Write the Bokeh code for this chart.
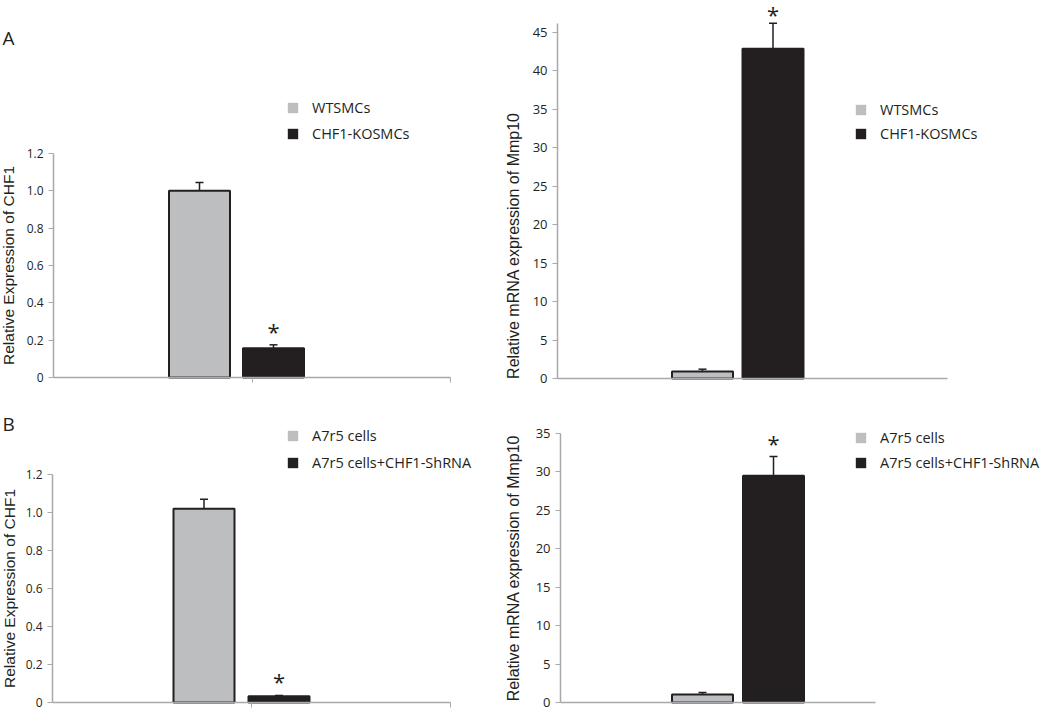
from bokeh.plotting import figure
from bokeh.models import (Range1d, FixedTicker, Whisker, TeeHead, ColumnDataSource,
                          Legend, LegendItem, Label)
from bokeh.layouts import column, row
from bokeh.embed import file_html
from bokeh.resources import INLINE

# ---------------- data ----------------
A_GROUPS = ["WTSMCs", "CHF1-KOSMCs"]
B_GROUPS = ["A7r5 cells", "A7r5 cells+CHF1-ShRNA"]

A_CHF1 = [1.00, 0.157]
A_CHF1_ERR = [0.045, 0.018]
A_MMP10 = [0.91, 42.9]
A_MMP10_ERR = [0.30, 3.3]

B_CHF1 = [1.02, 0.033]
B_CHF1_ERR = [0.05, 0.004]
B_MMP10 = [1.03, 29.5]
B_MMP10_ERR = [0.27, 2.5]

SIGNIFICANT = [False, True]

CHF1_TICKS = [0, 0.2, 0.4, 0.6, 0.8, 1.0, 1.2]
CHF1_TICK_LABELS = ["0", "0.2", "0.4", "0.6", "0.8", "1.0", "1.2"]
A_MMP10_TICKS = [0, 5, 10, 15, 20, 25, 30, 35, 40, 45]
A_MMP10_TICK_LABELS = ["0", "5", "10", "15", "20", "25", "30", "35", "40", "45"]
B_MMP10_TICKS = [0, 5, 10, 15, 20, 25, 30, 35]
B_MMP10_TICK_LABELS = ["0", "5", "10", "15", "20", "25", "30", "35"]

CHF1_LABEL = "Relative Expression of CHF1"
MMP10_LABEL = "Relative mRNA expression of Mmp10"

# ---------------- style ----------------
GRAY = "#BCBEC0"
BLACK = "#231F20"
AXIS = "#A7A9AC"
TEXT = "#231F20"
SANS = "Open Sans"
ARIAL = "Liberation Sans"


def panel(groups, vals, errs, ticks, tick_labels, axis_top, ylabel, g):
    # g: page geometry of the panel (pixels): figure box, axis origin, px per unit
    fl, ft, w, h = g["fig"]
    s, k = g["s"], g["k"]
    x0 = (fl - g["xg"]) / s
    x1 = (fl + w - g["xg"]) / s
    y0 = (g["y0"] - (ft + h)) / k
    y1 = (g["y0"] - ft) / k
    xa0 = (g["xa"] - g["xg"]) / s
    xa1 = (g["xe"] - g["xg"]) / s

    p = figure(width=w, height=h, output_backend="svg", toolbar_location=None,
               x_range=Range1d(x0, x1), y_range=Range1d(y0, y1),
               min_border=0, min_border_left=0, min_border_right=0,
               min_border_top=0, min_border_bottom=0)
    p.outline_line_color = None
    p.xgrid.visible = False
    p.ygrid.visible = False

    xs = list(range(len(groups)))
    src = ColumnDataSource(dict(
        x=xs, top=vals, upper=[v + e for v, e in zip(vals, errs)],
        color=[GRAY, BLACK]))
    p.vbar(x="x", top="top", bottom=0, width=61 / s, fill_color="color",
           line_color=BLACK, line_width=2, source=src)

    p.add_layout(Whisker(source=src, base="x", lower="top", upper="upper",
                         dimension="height", line_color=BLACK, line_width=1.5,
                         lower_head=None,
                         upper_head=TeeHead(size=8, line_color=BLACK, line_width=1.5)))

    for x, up, sig in zip(xs, src.data["upper"], SIGNIFICANT):
        if sig:
            p.add_layout(Label(x=x, y=up, y_offset=g.get("star_off", 14), text="*",
                               text_align="center", text_baseline="middle",
                               text_font=SANS, text_font_size="22px", text_color=TEXT))

    # y axis
    yax = p.yaxis[0]
    yax.fixed_location = xa0
    yax.bounds = (0, axis_top)
    yax.ticker = FixedTicker(ticks=ticks)
    yax.major_label_overrides = {t: l for t, l in zip(ticks, tick_labels)}
    yax.minor_tick_line_color = None
    yax.axis_line_color = AXIS
    yax.axis_line_width = 1.5
    yax.major_tick_line_color = AXIS
    yax.major_tick_out = 5
    yax.major_tick_in = 0
    yax.major_label_standoff = 5
    yax.major_label_text_font = SANS
    yax.major_label_text_font_size = g["tick_fs"]
    yax.major_label_text_color = TEXT
    if g.get("lab_xy") is None:
        yax.axis_label = ylabel
        yax.axis_label_text_font = ARIAL
        yax.axis_label_text_font_style = "normal"
        yax.axis_label_text_font_size = g["lab_fs"]
        yax.axis_label_text_color = TEXT
        yax.axis_label_standoff = g["lab_so"]
    else:
        p.add_layout(Label(x=g["lab_xy"][0], y=g["lab_xy"][1], x_units="screen",
                           y_units="screen", angle=90, angle_units="deg", text=ylabel,
                           text_align="center", text_baseline="top", text_font=ARIAL,
                           text_font_size=g["lab_fs"], text_color=TEXT))

    # x axis
    xax = p.xaxis[0]
    xax.fixed_location = 0
    xax.bounds = (xa0, xa1)
    xt = [(xa0 + xa1) / 2, xa1] if g["xticks"] else []
    xax.ticker = FixedTicker(ticks=xt)
    xax.major_label_overrides = {t: "" for t in xt}
    xax.minor_tick_line_color = None
    xax.axis_line_color = AXIS
    xax.axis_line_width = 1.5
    xax.major_tick_line_color = AXIS
    xax.major_tick_out = 5
    xax.major_tick_in = 0

    # legend (swatch renderers hold a point outside the visible ranges)
    far = x1 + 10
    rg = p.quad(left=[far], right=[far + 1], top=[1], bottom=[0],
                fill_color=GRAY, line_color=None)
    rb = p.quad(left=[far], right=[far + 1], top=[1], bottom=[0],
                fill_color=BLACK, line_color=None)
    leg = Legend(items=[LegendItem(label=groups[0], renderers=[rg]),
                        LegendItem(label=groups[1], renderers=[rb])],
                 location=g["leg"], orientation="vertical",
                 border_line_color=None, background_fill_alpha=0,
                 padding=0, margin=0, spacing=g["leg_sp"],
                 glyph_width=13, glyph_height=13, label_standoff=13, label_height=20,
                 label_text_font=SANS, label_text_font_size="14.5px",
                 label_text_color=TEXT)
    p.add_layout(leg)

    if g.get("tag"):
        p.add_layout(Label(x=g["tag_xy"][0], y=g["tag_xy"][1], x_units="screen",
                           y_units="screen", text=g["tag"], text_align="left",
                           text_baseline="alphabetic", text_font=SANS,
                           text_font_size="19px", text_color=TEXT))
    return p


pA1 = panel(A_GROUPS, A_CHF1, A_CHF1_ERR, CHF1_TICKS, CHF1_TICK_LABELS, 1.2, CHF1_LABEL,
            dict(fig=(0, 0, 500, 388), xa=53, xe=450, xg=199, s=74, y0=377, k=186.67,
                 tick_fs="12px", lab_fs="15.5px", lab_so=7, xticks=True,
                 leg=(286, 245), leg_sp=6, tag="A", tag_xy=(2, 351)))

pA2 = panel(A_GROUPS, A_MMP10, A_MMP10_ERR, A_MMP10_TICKS, A_MMP10_TICK_LABELS, 46.2,
            MMP10_LABEL,
            dict(fig=(500, 0, 548, 388), xa=557, xe=947, xg=702, s=70.5, y0=378, k=7.689,
                 tick_fs="13px", lab_fs="16px", lab_xy=(4, 143), xticks=False,
                 star_off=9, leg=(354, 245), leg_sp=4))

pB1 = panel(B_GROUPS, B_CHF1, B_CHF1_ERR, CHF1_TICKS, CHF1_TICK_LABELS, 1.2, CHF1_LABEL,
            dict(fig=(0, 388, 500, 322), xa=52, xe=450, xg=203.5, s=75, y0=702, k=190,
                 tick_fs="12px", lab_fs="15.5px", lab_so=5, xticks=True,
                 leg=(286, 238), leg_sp=7, tag="B", tag_xy=(2, 287)))

pB2 = panel(B_GROUPS, B_MMP10, B_MMP10_ERR, B_MMP10_TICKS, B_MMP10_TICK_LABELS, 35,
            MMP10_LABEL,
            dict(fig=(500, 388, 548, 322), xa=560, xe=875, xg=702, s=71, y0=702, k=7.686,
                 tick_fs="13px", lab_fs="16px", lab_so=11, xticks=False,
                 leg=(354, 238), leg_sp=5))

layout = column(row(pA1, pA2), row(pB1, pB2))

with open("out.html", "w") as f:
    f.write(file_html(layout, INLINE))
